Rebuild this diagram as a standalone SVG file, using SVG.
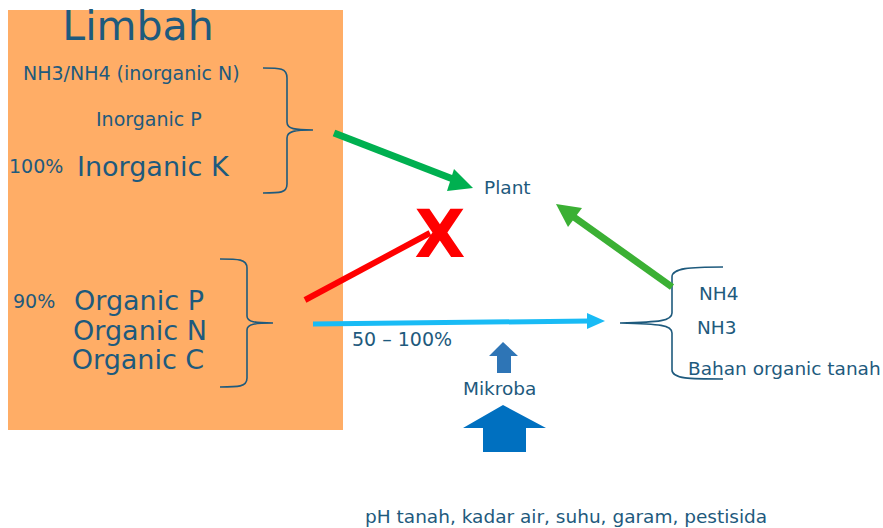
<svg xmlns="http://www.w3.org/2000/svg" width="883" height="528" viewBox="0 0 883 528">
<style>
text{font-family:"DejaVu Sans",Verdana,sans-serif;fill:#1E5A7D}
.s{font-size:18.5px}
.m{font-size:19px}
.l{font-size:27px}
.brace{fill:none;stroke:#1E5A7D;stroke-width:1.6}
</style>
<rect x="0" y="0" width="883" height="528" fill="#fff"/>
<g id="limbah">
<rect x="8" y="10" width="335" height="420" fill="#FFAD66"/>
<text x="138" y="40" font-size="41" text-anchor="middle">Limbah</text>
</g>
<g id="inorganic">
<text class="m" x="23" y="80">NH3/NH4 (inorganic N)</text>
<text class="m" x="96" y="126">Inorganic P</text>
<text class="m" x="9" y="173">100%</text>
<text class="l" x="77" y="176">Inorganic K</text>
<path class="brace" d="M263,68 C280,68 287,68 287,78 L287,122 C287,129 295,130 313,130 C295,130 287,131 287,138 L287,184 C287,193 280,193 263,193"/>
</g>
<g id="organic">
<text class="m" x="13" y="308">90%</text>
<text class="l" x="139" y="310" text-anchor="middle">Organic P</text>
<text class="l" x="140" y="340" text-anchor="middle">Organic N</text>
<text class="l" x="138" y="369" text-anchor="middle">Organic C</text>
<path class="brace" d="M220,259 C238,259 247,259 247,268 L247,316 C247,322 255,323 273,323 C255,323 247,324 247,330 L247,378 C247,387 238,387 220,387"/>
</g>
<g id="plant">
<text class="s" x="484" y="194">Plant</text>
</g>
<g id="soil">
<path class="brace" d="M723,267 C690,267 672,268 672,277 L672,313 C672,321 660,322 620,323 C660,324 672,325 672,333 L672,370 C672,379 690,379 723,379"/>
<text class="s" x="699" y="300">NH4</text>
<text class="s" x="697" y="334">NH3</text>
<text class="s" x="688" y="375">Bahan organic tanah</text>
</g>
<g id="mikroba">
<polygon points="503,342 518,356 511,356 511,373 497,373 497,356 489,356" fill="#2E75B6"/>
<text class="s" x="463" y="395">Mikroba</text>
<polygon points="503,405 546,428 526,428 526,452 483,452 483,428 463,428" fill="#0070C0"/>
</g>
<g id="factors">
<text class="s" x="365" y="523">pH tanah, kadar air, suhu, garam, pestisida</text>
</g>
<g id="connectors">
<line x1="334" y1="133" x2="458" y2="181" stroke="#00B050" stroke-width="7"/>
<polygon points="473,188 447,191 454,169" fill="#00B050"/>
<line x1="672" y1="287" x2="571" y2="215" stroke="#3BB034" stroke-width="7"/>
<polygon points="556,204 582,208 568,227" fill="#3BB034"/>
<line x1="305" y1="300" x2="430" y2="233" stroke="#FF0000" stroke-width="6"/>
<line x1="313" y1="324" x2="590" y2="321" stroke="#19BBF5" stroke-width="5"/>
<polygon points="605,321 587,313 587,329" fill="#19BBF5"/>
<text class="m" x="352" y="346">50 – 100%</text>
<text x="440" y="257" font-size="66" font-weight="bold" text-anchor="middle" style="font-family:'DejaVu Sans',sans-serif;fill:#FF0000">X</text>
</g>
</svg>
